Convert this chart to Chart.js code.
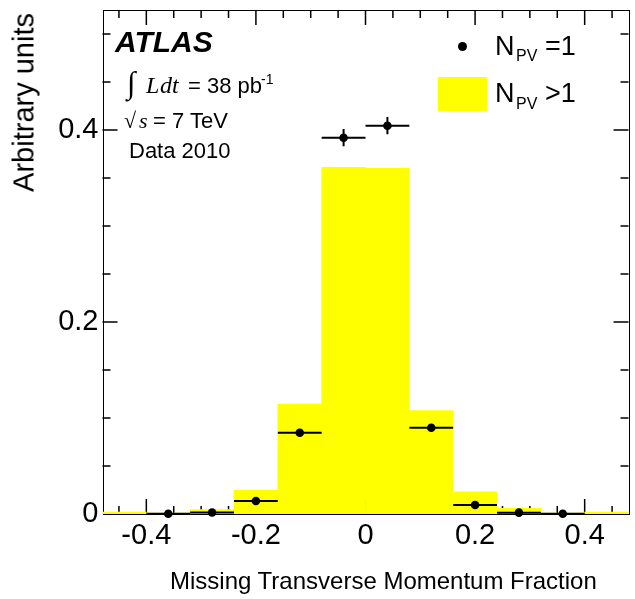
<!DOCTYPE html>
<html>
<head>
<meta charset="utf-8">
<script src="https://cdn.jsdelivr.net/npm/chart.js@4.4.0/dist/chart.umd.min.js"></script>
<style>
  body { margin: 0; background: #fff; }
  #wrap { position: relative; width: 635px; height: 599px; font-family: "Liberation Sans", Arial, Helvetica, sans-serif; color: #000; }
  #wrap canvas { position: absolute; left: 0; top: 0; }
  .t { position: absolute; white-space: nowrap; line-height: 1; }
  .serif { font-family: "Liberation Serif", "Times New Roman", serif; }
  .it { font-style: italic; }
</style>
</head>
<body>
<div id="wrap">
  <canvas id="grafico" width="635" height="599"></canvas>

  <!-- ATLAS label -->
  <div class="t" style="left:115px; top:27px; font-size:30px; font-weight:bold; font-style:italic;">ATLAS</div>
  <div class="t serif" style="left:127px; top:67px; font-size:31px;">&#8747;</div>
  <div class="t serif it" style="left:146px; top:73px; font-size:24px;">L</div>
  <div class="t serif it" style="left:160px; top:73px; font-size:24px;">dt</div>
  <div class="t" style="left:188px; top:75px; font-size:22px;">= 38 pb</div>
  <div class="t" style="left:261px; top:72px; font-size:14px;">-1</div>
  <div class="t serif" style="left:124px; top:110px; font-size:22px;">&#8730;</div>
  <div class="t serif it" style="left:139px; top:110px; font-size:22px;">s</div>
  <div class="t" style="left:153px; top:110px; font-size:22px;">= 7 TeV</div>
  <div class="t" style="left:129px; top:140px; font-size:22px;">Data 2010</div>

  <!-- legend -->
  <div style="position:absolute; left:458px; top:42px; width:9px; height:9px; border-radius:50%; background:#000;"></div>
  <div class="t" style="left:495px; top:33px; font-size:27px;">N</div>
  <div class="t" style="left:516px; top:48px; font-size:16px;">PV</div>
  <div class="t" style="left:545px; top:33px; font-size:27px;">=1</div>
  <div style="position:absolute; left:438px; top:77px; width:49px; height:34px; background:#ffff00;"></div>
  <div class="t" style="left:495px; top:80px; font-size:27px;">N</div>
  <div class="t" style="left:516px; top:96px; font-size:16px;">PV</div>
  <div class="t" style="left:545px; top:80px; font-size:27px;">&gt;1</div>

  <!-- axis titles -->
  <div class="t" style="left:0; top:0; width:300px; text-align:right; font-size:29px; transform-origin:0 0; transform:translate(9.5px, 313px) rotate(-90deg);">Arbitrary units</div>
  <div class="t" style="left:170px; top:569px; font-size:24px;">Missing Transverse Momentum Fraction</div>
</div>

<script>
// bins of width 0.08 from -0.48 to 0.48
const binCenters = [-0.44, -0.36, -0.28, -0.20, -0.12, -0.04, 0.04, 0.12, 0.20, 0.28, 0.36, 0.44];
const npvMore = [0.002, 0.001, 0.0045, 0.025, 0.1146, 0.361, 0.360, 0.1076, 0.0232, 0.0059, 0.001, 0.002];

// N_PV = 1 points
const pointX = [-0.36, -0.28, -0.20, -0.12, -0.04, 0.04, 0.12, 0.20, 0.28, 0.36];
const npvOne = [0.0003, 0.0015, 0.0135, 0.0847, 0.392, 0.4045, 0.0899, 0.0094, 0.0014, 0.0002];
const npvOneErr = [0.0003, 0.0005, 0.0012, 0.003, 0.009, 0.009, 0.003, 0.0012, 0.0005, 0.0003];
const halfBin = 0.04;

const xTicks = [-0.4, -0.2, 0, 0.2, 0.4];
const xTickLabels = ['-0.4', '-0.2', '0', '0.2', '0.4'];
const yTicks = [0, 0.2, 0.4];
const yTickLabels = ['0', '0.2', '0.4'];

const tickFont = { family: '"Liberation Sans", Arial, sans-serif', size: 29 };

// frame with ROOT style ticks on the four sides + error bars
const frame = {
  id: 'frame',
  beforeDatasetsDraw(chart) {
    const { ctx, chartArea: a, scales: { x, y } } = chart;
    ctx.save();
    ctx.strokeStyle = '#000';
    ctx.lineWidth = 1;
    ctx.strokeRect(Math.round(a.left) + 0.5, Math.round(a.top) + 0.5,
      Math.round(a.right) - Math.round(a.left), Math.round(a.bottom) - Math.round(a.top));
    ctx.lineWidth = 1.5;
    ctx.beginPath();
    for (let i = -9; i <= 9; i++) {
      const px = x.getPixelForValue(i * 0.05);
      const len = i % 4 === 0 ? 15 : 8;
      ctx.moveTo(px, a.bottom); ctx.lineTo(px, a.bottom - len);
      ctx.moveTo(px, a.top); ctx.lineTo(px, a.top + len);
    }
    for (let i = 1; i <= 10; i++) {
      const py = y.getPixelForValue(i * 0.05);
      const len = i % 4 === 0 ? 15 : 8;
      ctx.moveTo(a.left, py); ctx.lineTo(a.left + len, py);
      ctx.moveTo(a.right, py); ctx.lineTo(a.right - len, py);
    }
    ctx.stroke();
    ctx.restore();
  },
  afterDatasetsDraw(chart) {
    const { ctx, scales: { x, y } } = chart;
    ctx.save();
    ctx.strokeStyle = '#000';
    ctx.lineWidth = 2;
    ctx.beginPath();
    pointX.forEach((px, i) => {
      const py = y.getPixelForValue(npvOne[i]);
      ctx.moveTo(x.getPixelForValue(px - halfBin), py);
      ctx.lineTo(x.getPixelForValue(px + halfBin), py);
      ctx.moveTo(x.getPixelForValue(px), y.getPixelForValue(npvOne[i] - npvOneErr[i]));
      ctx.lineTo(x.getPixelForValue(px), y.getPixelForValue(npvOne[i] + npvOneErr[i]));
    });
    ctx.stroke();
    ctx.restore();
  }
};

new Chart(document.getElementById('grafico'), {
  type: 'bar',
  data: {
    datasets: [
      {
        type: 'scatter',
        label: 'NPV = 1',
        data: pointX.map((v, i) => ({ x: v, y: npvOne[i] })),
        backgroundColor: '#000',
        borderWidth: 0,
        pointRadius: 4.3,
        clip: false,
        order: 1
      },
      {
        label: 'NPV > 1',
        data: binCenters.map((v, i) => ({ x: v, y: npvMore[i] })),
        backgroundColor: '#ffff00',
        borderWidth: 0,
        barPercentage: 1,
        categoryPercentage: 1,
        order: 2
      }
    ]
  },
  options: {
    responsive: false,
    animation: false,
    devicePixelRatio: 1,
    layout: { padding: { top: 10, right: 6.5, left: 0, bottom: 0 } },
    plugins: { legend: { display: false }, tooltip: { enabled: false } },
    scales: {
      x: {
        type: 'linear',
        min: -0.48,
        max: 0.48,
        offset: false,
        grid: { display: false, drawTicks: false, offset: false },
        border: { display: false },
        afterBuildTicks: s => { s.ticks = xTicks.map(v => ({ value: v })); },
        afterFit: s => { s.height = 85; s.paddingLeft = 0; s.paddingRight = 0; },
        ticks: {
          font: tickFont,
          color: '#000',
          padding: 5,
          maxRotation: 0,
          autoSkip: false,
          callback: v => xTickLabels[xTicks.indexOf(v)]
        }
      },
      y: {
        min: 0,
        max: 0.525,
        grid: { display: false, drawTicks: false },
        border: { display: false },
        afterBuildTicks: s => { s.ticks = yTicks.map(v => ({ value: v })); },
        afterFit: s => { s.width = 102.5; s.paddingTop = 0; s.paddingBottom = 0; },
        ticks: {
          font: tickFont,
          color: '#000',
          padding: 4,
          callback: v => yTickLabels[yTicks.indexOf(v)]
        }
      }
    }
  },
  plugins: [frame]
});
</script>
</body>
</html>
